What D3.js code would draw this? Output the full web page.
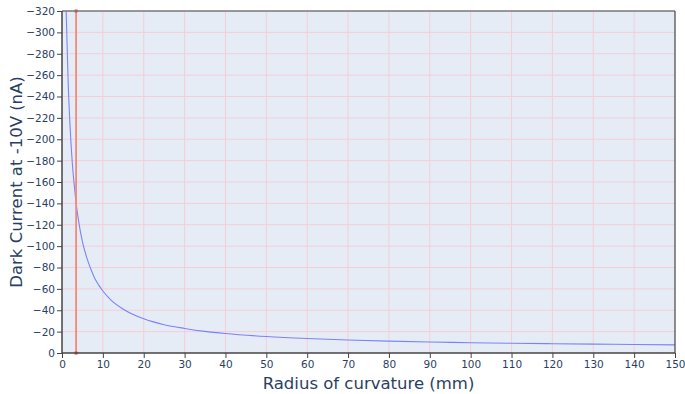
<!DOCTYPE html>
<html>
<head>
<meta charset="utf-8">
<script src="https://cdn.jsdelivr.net/npm/d3@7"></script>
<style>
  html, body { margin: 0; padding: 0; background: #fff; }
  svg { display: block; font-family: "DejaVu Sans", sans-serif; }
</style>
</head>
<body>
<svg id="chart" width="685" height="394"></svg>
<script>
// ---- data ----
const radius = [0.8, 1, 1.5, 2, 2.5, 3, 3.5, 4, 5, 6, 7, 8, 9, 10, 12, 15, 20, 25, 30, 35, 40, 50, 60, 70, 80, 90, 100, 110, 120, 130, 140, 150];
const darkCurrent = [-360, -322, -254, -210, -179, -157, -139, -125, -104, -90, -79, -70, -63.5, -58, -49.5, -41, -32, -26.5, -23, -20.2, -18.2, -15.4, -13.5, -12.1, -11.1, -10.3, -9.6, -9.1, -8.7, -8.3, -8.0, -7.6];
const markerX = [3.45, 3.45];
const markerY = [0, -320];
const xTicks = [0, 10, 20, 30, 40, 50, 60, 70, 80, 90, 100, 110, 120, 130, 140, 150];
const yTicks = [0, -20, -40, -60, -80, -100, -120, -140, -160, -180, -200, -220, -240, -260, -280, -300, -320];
const xTitle = "Radius of curvature (mm)";
const yTitle = "Dark Current at -10V (nA)";

// ---- layout ----
const W = 685, H = 394;
const m = { left: 62, right: 10, top: 11, bottom: 41 };
const pw = W - m.left - m.right, ph = H - m.top - m.bottom;

const svg = d3.select("#chart");
const x = d3.scaleLinear().domain([0, 150]).range([m.left, m.left + pw]);
const y = d3.scaleLinear().domain([0, -320]).range([m.top + ph, m.top]);

svg.append("defs").append("clipPath").attr("id", "clip")
  .append("rect").attr("x", m.left).attr("y", m.top).attr("width", pw).attr("height", ph);

svg.append("rect").attr("x", m.left).attr("y", m.top).attr("width", pw).attr("height", ph)
  .attr("fill", "#E5ECF6");

// grid
const grid = svg.append("g").attr("stroke", "#f5cdd8").attr("stroke-width", 1);
grid.selectAll("line.gx").data(xTicks.slice(1, -1)).join("line")
  .attr("x1", d => x(d)).attr("x2", d => x(d)).attr("y1", m.top).attr("y2", m.top + ph);
grid.selectAll("line.gy").data(yTicks.slice(1, -1)).join("line")
  .attr("y1", d => y(d)).attr("y2", d => y(d)).attr("x1", m.left).attr("x2", m.left + pw);

// curve
const pts = radius.map((r, i) => [r, darkCurrent[i]]);
svg.append("path").datum(pts)
  .attr("clip-path", "url(#clip)")
  .attr("fill", "none").attr("stroke", "#7a84f8").attr("stroke-width", 1.1)
  .attr("d", d3.line().x(d => x(d[0])).y(d => y(d[1])).curve(d3.curveMonotoneX));

// red vertical marker line
const mpts = markerX.map((v, i) => [v, markerY[i]]);
svg.append("path").datum(mpts)
  .attr("fill", "none").attr("stroke", "#f08a78").attr("stroke-width", 1.8)
  .attr("d", d3.line().x(d => x(d[0])).y(d => y(d[1])));
svg.selectAll("rect.mk").data(mpts).join("rect")
  .attr("x", d => x(d[0]) - 1.5).attr("y", d => y(d[1]) - 1.5)
  .attr("width", 3).attr("height", 3).attr("fill", "#e0503a");

// frame
const frame = svg.append("g").attr("stroke", "#444").attr("stroke-width", 1.2);
frame.append("line").attr("x1", m.left).attr("x2", m.left + pw).attr("y1", m.top).attr("y2", m.top).attr("stroke", "#777").attr("stroke-width", 1.5);
frame.append("line").attr("x1", m.left + pw).attr("x2", m.left + pw).attr("y1", m.top).attr("y2", m.top + ph);

// axes
const xAxis = d3.axisBottom(x).tickValues(xTicks).tickSize(5).tickPadding(3).tickFormat(d3.format("d"));
const yAxis = d3.axisLeft(y).tickValues(yTicks).tickSize(5).tickPadding(2)
  .tickFormat(d => d3.format("d")(d).replace("-", "\u2212"));

const gx = svg.append("g").attr("transform", `translate(0,${m.top + ph})`).call(xAxis);
const gy = svg.append("g").attr("transform", `translate(${m.left},0)`).call(yAxis);
[gx, gy].forEach(g => {
  g.select(".domain").attr("stroke", "#444").attr("stroke-width", 1.5);
  g.selectAll(".tick line").attr("stroke", "#444");
  g.selectAll(".tick text").attr("fill", "#2a3f5f").attr("font-size", "10.5px")
    .attr("font-family", "DejaVu Sans, sans-serif");
});
gx.select(".domain").attr("d", `M${m.left},0H${m.left + pw}`);
gy.select(".domain").attr("d", `M0,${m.top}V${m.top + ph}`);

// titles
svg.append("text").attr("x", m.left + pw / 2).attr("y", 389)
  .attr("text-anchor", "middle").attr("fill", "#2a3f5f").attr("font-size", "16.5px")
  .text(xTitle);
svg.append("text").attr("transform", `translate(21.5,${m.top + ph / 2}) rotate(-90)`)
  .attr("text-anchor", "middle").attr("fill", "#2a3f5f").attr("font-size", "16.5px")
  .text(yTitle);
</script>
</body>
</html>
